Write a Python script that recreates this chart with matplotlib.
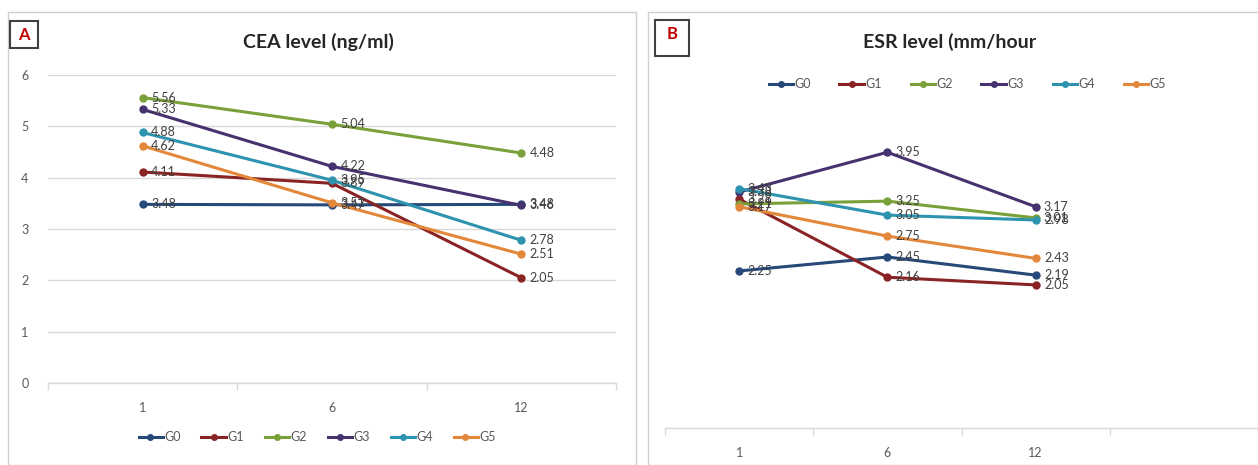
"""
CEA / ESR level charts (panels A and B), Excel style.
Output: out.png (1258x465)
"""

import matplotlib
matplotlib.use("Agg")
import matplotlib.pyplot as plt
from matplotlib.patches import Rectangle
from matplotlib.lines import Line2D

plt.rcParams["font.family"] = ["Lato", "DejaVu Sans"]

months = ["1", "6", "12"]
groups = ["G0", "G1", "G2", "G3", "G4", "G5"]
colors = ["#27497A", "#8A2424", "#7AA03A", "#45326E", "#2E93AE", "#E3873A"]

# panel A: CEA level (ng/ml)
cea_g0 = [3.48, 3.47, 3.48]
cea_g1 = [4.11, 3.89, 2.05]
cea_g2 = [5.56, 5.04, 4.48]
cea_g3 = [5.33, 4.22, 3.46]
cea_g4 = [4.88, 3.95, 2.78]
cea_g5 = [4.62, 3.51, 2.51]

# panel B: ESR level (mm/hour)
esr_g0 = [2.25, 2.45, 2.19]
esr_g1 = [3.28, 2.16, 2.05]
esr_g2 = [3.21, 3.25, 3.01]
esr_g3 = [3.38, 3.95, 3.17]
esr_g4 = [3.43, 3.05, 2.98]
esr_g5 = [3.17, 2.75, 2.43]

cea = [cea_g0, cea_g1, cea_g2, cea_g3, cea_g4, cea_g5]
esr = [esr_g0, esr_g1, esr_g2, esr_g3, esr_g4, esr_g5]

W, H = 1258, 465
GRID = "#D9D9D9"
TXT = "#595959"
LBL = "#404040"


def px(x0, y0, x1, y1):
    # pixel box (top-left origin) -> figure fraction rect
    return [x0 / W, 1 - y1 / H, (x1 - x0) / W, (y1 - y0) / H]


def draw_lines(ax, data):
    x = list(range(len(months)))
    for vals, c in zip(data, colors):
        ax.plot(x, vals, color=c, lw=2.2, marker="o", ms=5, zorder=3)
        for xi, v in zip(x, vals):
            ax.annotate(f"{v:.2f}", (xi, v), xytext=(6, 0), textcoords="offset points",
                        va="center", ha="left", fontsize=9, color=LBL, zorder=4)


def style_axis(ax, ncat):
    for s in ["top", "right", "left"]:
        ax.spines[s].set_visible(False)
    ax.spines["bottom"].set_color(GRID)
    ax.spines["bottom"].set_linewidth(1)
    ax.set_xticks(range(len(months)))
    ax.set_xticklabels(months, fontsize=9, color=TXT)
    ax.set_xticks([i + 0.5 for i in range(-1, ncat)], minor=True)
    ax.tick_params(axis="x", which="major", length=0, pad=14)
    ax.tick_params(axis="x", which="minor", length=5, color=GRID, width=1)
    ax.set_xlim(-0.5, ncat - 0.5)


def legend_row(fig, cx, cy, step):
    # legend entries as a centred row, Excel style
    n = len(groups)
    x0 = cx - step * (n - 1) / 2
    for i, (g, c) in enumerate(zip(groups, colors)):
        xc = (x0 + i * step) / W
        y = 1 - cy / H
        fig.add_artist(Line2D([xc - 22 / W, xc + 2 / W], [y, y], color=c, lw=2.2,
                              transform=fig.transFigure))
        fig.add_artist(Line2D([xc - 10 / W], [y], color=c, marker="o", ms=4,
                              transform=fig.transFigure))
        fig.text(xc + 4 / W, y, g, fontsize=9, color=TXT, va="center", ha="left")


fig = plt.figure(figsize=(W / 100, H / 100), dpi=100)

# panel frames
fig.add_artist(Rectangle((8 / W, 0), 628 / W, 1 - 12 / H, transform=fig.transFigure,
                         fill=False, ec="#D0D0D0", lw=1))
fig.add_artist(Rectangle((648 / W, 0), 620 / W, 1 - 12 / H, transform=fig.transFigure,
                         fill=False, ec="#D0D0D0", lw=1))

# ---- panel A ----
axA = fig.add_axes(px(48, 75, 616, 383))
draw_lines(axA, cea)
style_axis(axA, 3)
axA.set_ylim(0, 6)
axA.set_yticks(range(0, 7))
axA.set_yticklabels([str(v) for v in range(0, 7)], fontsize=9, color=TXT)
axA.tick_params(axis="y", length=0, pad=14)
axA.grid(axis="y", color=GRID, lw=1)
axA.set_axisbelow(True)

fig.text(318 / W, 1 - 42 / H, "CEA level (ng/ml)", fontsize=14, fontweight="bold",
         color="#262626", ha="center", va="center")
fig.add_artist(Rectangle((10 / W, 1 - 48 / H), 28 / W, 27 / H, transform=fig.transFigure,
                         fill=False, ec="#404040", lw=1.5))
fig.text(24 / W, 1 - 35 / H, "A", fontsize=12, fontweight="bold", color="#C00000",
         ha="center", va="center")
legend_row(fig, 318, 437, 63)

# ---- panel B ----
axB = fig.add_axes(px(665, 120, 1258, 428))
draw_lines(axB, esr)
style_axis(axB, 4)
axB.set_ylim(0, 308 / 69.8)
axB.set_yticks([])

fig.text(950 / W, 1 - 42 / H, "ESR level (mm/hour", fontsize=14, fontweight="bold",
         color="#262626", ha="center", va="center")
fig.add_artist(Rectangle((655 / W, 1 - 56 / H), 34 / W, 36 / H, transform=fig.transFigure,
                         fill=False, ec="#404040", lw=1.5))
fig.text(672 / W, 1 - 34 / H, "B", fontsize=12, fontweight="bold", color="#C00000",
         ha="center", va="center")
legend_row(fig, 968, 84, 71)

fig.savefig("out.png", dpi=100)
plt.close(fig)
